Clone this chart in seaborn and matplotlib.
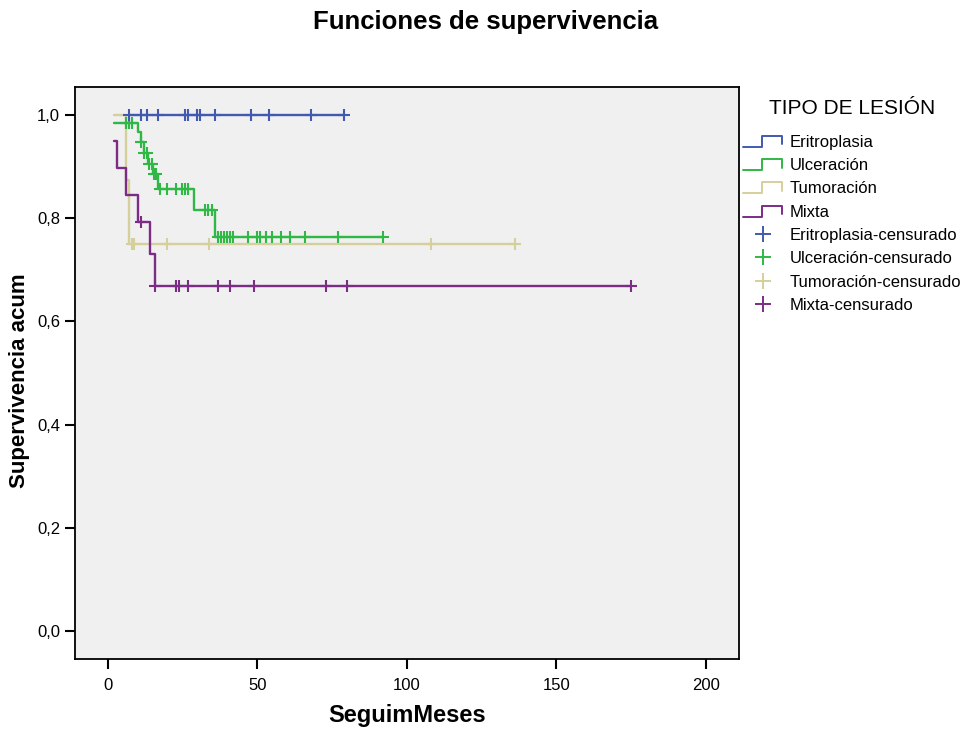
import numpy as np
import pandas as pd
import matplotlib
matplotlib.use("Agg")
import matplotlib.pyplot as plt
import seaborn as sns
from matplotlib.lines import Line2D
from matplotlib.legend_handler import HandlerBase

# Kaplan-Meier step functions (start time of each step, survival on that step)
eri_t = [7, 79]
eri_s = [1.0, 1.0]
eri_cens = [7, 11, 13, 17, 26, 27, 30, 31, 36, 48, 54, 68, 79]

ulc_t = [2, 10, 11, 12, 13.5, 15.2, 17, 29, 36, 92]
ulc_s = [0.984, 0.968, 0.948, 0.927, 0.906, 0.885, 0.857, 0.816, 0.764, 0.764]
ulc_cens = [6, 7, 8, 11, 12, 13, 13.8, 14.7, 15.5, 16.3, 17.5, 20, 23, 25, 26, 27,
            32.4, 33.5, 35, 37, 38, 39, 40, 41, 42, 47, 50, 51, 53, 55, 58, 61,
            66, 77, 92]

tum_t = [2, 6, 7, 136]
tum_s = [1.0, 0.875, 0.75, 0.75]
tum_cens = [8, 8.7, 20, 34, 108, 136]

mix_t = [2, 3, 6, 10, 14, 16, 175]
mix_s = [0.95, 0.897, 0.845, 0.792, 0.73, 0.669, 0.669]
mix_cens = [11, 16, 23, 24, 27, 37, 41, 49, 73, 80, 175]

groups = ["Eritroplasia", "Ulceración", "Tumoración", "Mixta"]
colors = {"Eritroplasia": "#4159AE", "Ulceración": "#2FB845",
          "Tumoración": "#D5CF9B", "Mixta": "#7B2C85"}
curves = {"Eritroplasia": (eri_t, eri_s, eri_cens),
          "Ulceración": (ulc_t, ulc_s, ulc_cens),
          "Tumoración": (tum_t, tum_s, tum_cens),
          "Mixta": (mix_t, mix_s, mix_cens)}

x_ticks = [0, 50, 100, 150, 200]
y_ticks = [0.0, 0.2, 0.4, 0.6, 0.8, 1.0]
y_ticklabels = ["0,0", "0,2", "0,4", "0,6", "0,8", "1,0"]

sns.set_style("white")
plt.rcParams["font.family"] = ["Liberation Sans", "DejaVu Sans"]
plt.rcParams["text.color"] = "black"
plt.rcParams["axes.labelcolor"] = "black"

fig = plt.figure(figsize=(9.71, 7.29), dpi=100)
ax = fig.add_axes([74.7 / 971, 1 - 659.3 / 729, (739 - 74.7) / 971, (659.3 - 86.7) / 729])
ax.set_facecolor("#F0F0F0")

draw_order = ["Tumoración", "Mixta", "Ulceración", "Eritroplasia"]
for g in draw_order:
    t, s, cens = curves[g]
    df = pd.DataFrame({"t": t, "s": s})
    sns.lineplot(data=df, x="t", y="s", drawstyle="steps-post", estimator=None,
                 sort=False, color=colors[g], lw=1.7, ax=ax, legend=False)
    idx = np.searchsorted(np.asarray(t), np.asarray(cens), side="right") - 1
    cy = np.asarray(s)[np.clip(idx, 0, None)]
    cdf = pd.DataFrame({"t": cens, "s": cy})
    sns.scatterplot(data=cdf, x="t", y="s", marker="+", s=70, color=colors[g],
                    linewidth=1.5, ax=ax, legend=False, zorder=3)

ax.set_xlim(-11, 211)
ax.set_ylim(-0.055, 1.055)
ax.set_xticks(x_ticks)
ax.set_xticklabels([str(v) for v in x_ticks])
ax.set_yticks(y_ticks)
ax.set_yticklabels(y_ticklabels)
ax.tick_params(axis="both", direction="out", length=7.5, width=1.5,
               labelsize=12, colors="black", left=True, bottom=True)
ax.tick_params(axis="x", pad=6)
ax.tick_params(axis="y", pad=3)
for sp in ax.spines.values():
    sp.set_visible(True)
    sp.set_color("black")
    sp.set_linewidth(1.3)

ax.set_xlabel("SeguimMeses", fontsize=17, fontweight="bold", labelpad=8)
ax.set_ylabel("Supervivencia acum", fontsize=16, fontweight="bold")
ax.yaxis.set_label_coords(-0.0673, 0.486)
fig.text(0.5, 1 - 22 / 729, "Funciones de supervivencia", ha="center", va="center",
         fontsize=18.5, fontweight="bold")


class StepHandler(HandlerBase):
    def create_artists(self, legend, orig_handle, xdescent, ydescent, width,
                       height, fontsize, trans):
        x0, y0 = -xdescent, -ydescent
        xm = x0 + 0.49 * width
        lo, hi = y0 + 0.0 * height, y0 + 0.95 * height
        xs = [x0, xm, xm, x0 + width, x0 + width]
        ys = [lo, lo, hi, hi, lo + 0.2 * height]
        ln = Line2D(xs, ys, color=orig_handle.get_color(), lw=1.4)
        ln.set_transform(trans)
        return [ln]


step_handles = [Line2D([], [], color=colors[g]) for g in groups]
cens_handles = [Line2D([], [], color=colors[g], marker="+", linestyle="none",
                       markersize=11, markeredgewidth=1.4) for g in groups]
labels = groups + [g + "-censurado" for g in groups]
handler_map = {h: StepHandler() for h in step_handles}
leg = fig.legend(step_handles + cens_handles, labels, handler_map=handler_map,
                 loc="upper left", bbox_to_anchor=(743 / 971, 1 - 99 / 729),
                 frameon=False, fontsize=12, title="TIPO DE LESIÓN",
                 title_fontsize=15, borderpad=0, borderaxespad=0,
                 handlelength=2.35, handleheight=0.7, handletextpad=0.45,
                 labelspacing=0.5, numpoints=1)
leg._legend_box.sep = 12

fig.savefig("out.png", dpi=100)
